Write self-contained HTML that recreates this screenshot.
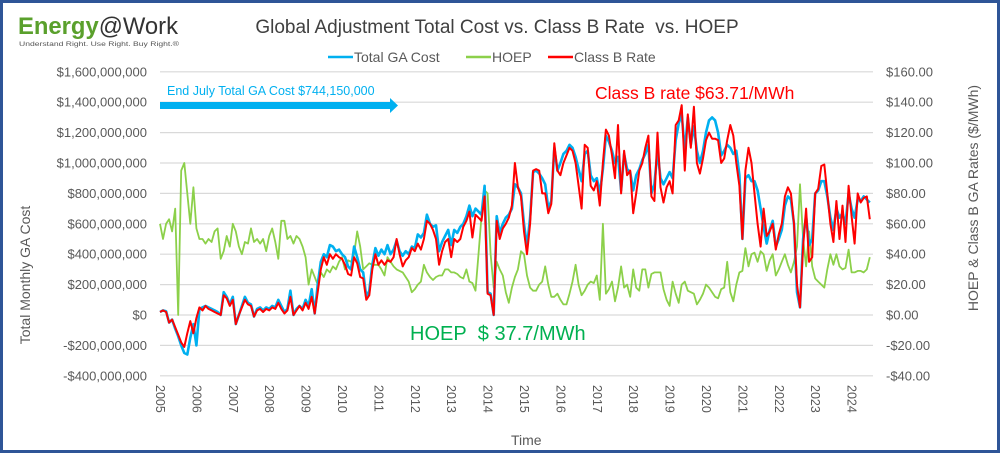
<!DOCTYPE html>
<html><head><meta charset="utf-8"><style>
body{margin:0;background:#fff;}
#wrap{position:relative;width:1000px;height:453px;overflow:hidden;font-family:"Liberation Sans",sans-serif;}
svg text{font-family:"Liberation Sans",sans-serif;}
</style></head><body>
<div id="wrap">
<svg id="chart" width="1000" height="453"></svg>
</div>
<script>
const years = ["2005","2006","2007","2008","2009","2010","2011","2012","2013","2014","2015","2016","2017","2018","2019","2020","2021","2022","2023","2024"];
const leftTicks = [-400,-200,0,200,400,600,800,1000,1200,1400,1600];
const leftTickLabels = ["-$400,000,000","-$200,000,000","$0","$200,000,000","$400,000,000","$600,000,000","$800,000,000","$1,000,000,000","$1,200,000,000","$1,400,000,000","$1,600,000,000"];
const rightTicks = [-40,-20,0,20,40,60,80,100,120,140,160];
const rightTickLabels = ["-$40.00","-$20.00","$0.00","$20.00","$40.00","$60.00","$80.00","$100.00","$120.00","$140.00","$160.00"];
// Class B rate $/MWh, monthly Jan 2005 - Jul 2024
const classB = [
2,3,2,-5,-3,-8,-13,-18,-21,-12,-4,-12,
-2,5,3,6,4,3,2,1,0,13,11,6,
10,-6,0,5,10,7,6,-1,3,4,2,4,
3,5,4,8,4,1,3,12,0,3,6,3,
8,4,12,1,15,30,38,33,40,37,40,38,
37,33,27,26,38,34,25,24,10,13,30,40,
33,36,33,36,35,38,50,40,32,36,38,44,
42,47,43,50,62,60,56,50,33,42,48,50,
38,50,48,50,58,62,68,51,66,64,62,78,
14,13,0,62,50,57,60,64,72,100,84,78,
55,40,60,95,96,95,80,80,67,73,113,95,
92,100,105,110,108,100,85,70,112,110,85,82,
88,72,100,122,118,105,90,125,80,108,92,95,
67,80,95,100,110,118,78,75,120,84,74,84,
88,80,125,128,138,95,132,110,137,100,93,103,
115,120,116,116,115,100,103,115,125,118,100,85,
50,95,110,100,80,60,45,70,52,55,60,43,
53,60,78,84,80,60,20,5,45,70,35,38,
80,83,98,99,80,60,48,75,50,72,48,85,
65,47,80,74,77,78,63];
// Total GA cost, $ millions
const gaCost = [
20,30,25,-50,-30,-90,-140,-200,-250,-260,-150,-60,
-200,40,50,60,50,40,30,20,0,150,120,70,
120,-60,0,60,120,80,70,-10,40,50,30,50,
40,60,50,100,60,20,40,160,0,40,60,40,
100,60,170,10,200,350,400,380,460,450,420,430,
400,380,320,300,450,380,300,280,120,160,330,440,
390,430,400,460,400,430,490,420,390,420,400,450,
440,530,510,540,660,600,580,590,420,480,520,560,
460,560,540,580,600,650,720,650,700,680,660,850,
150,140,0,650,540,600,640,660,700,860,840,800,
600,450,640,940,950,930,900,860,700,750,1100,950,
1000,1060,1080,1120,1100,1040,960,880,1060,1080,920,880,
900,800,960,1180,1140,1080,1000,1040,820,1060,960,940,
820,920,960,1020,1060,1120,800,860,1080,900,860,900,
940,900,1150,1260,1320,1080,1300,1120,1240,1080,1000,1080,
1200,1280,1300,1280,1200,1050,1080,1120,1100,1060,1080,920,
500,900,920,880,880,820,700,580,470,560,620,450,
500,560,720,780,760,600,150,50,500,650,460,500,
800,820,880,880,780,640,560,700,640,670,600,800,
700,640,760,750,780,760,740];
// HOEP $/MWh
const hoep = [
60,50,60,63,55,70,0,95,100,80,60,84,
57,50,50,47,50,48,55,57,37,42,52,45,
60,55,45,40,48,47,57,48,50,47,50,42,
52,57,48,37,62,62,50,52,47,52,50,45,
38,20,30,25,20,28,25,30,28,32,30,35,
38,30,36,35,40,55,45,30,32,34,33,33,
33,30,26,38,35,32,30,29,28,25,22,15,
17,20,22,33,28,25,23,25,26,26,30,30,
28,28,27,25,24,30,22,21,16,40,65,82,
80,40,18,35,30,26,15,8,18,25,30,42,
40,26,18,16,16,20,22,32,20,12,12,14,
10,7,7,14,22,33,20,13,16,20,22,21,
26,10,60,14,17,22,9,18,32,18,20,12,
30,18,16,30,30,18,27,28,28,28,17,10,
6,22,14,8,20,22,16,15,14,7,10,14,
20,18,15,12,11,17,18,35,15,9,20,28,
29,44,32,40,41,35,42,40,29,36,40,26,
30,35,40,33,28,35,45,86,50,32,55,32,
24,22,20,18,30,40,33,40,32,30,31,43,
28,28,29,29,28,30,38];

const svg = document.getElementById('chart');
const NS = 'http://www.w3.org/2000/svg';
const X0 = 160, YEARW = 36.4;
const yL = v => 315 - (v/200)*30.4;
const yR = v => 315 - (v/20)*30.4;
const xM = i => X0 + (i/12)*YEARW;
function mk(tag, attrs, parent){ const e=document.createElementNS(NS,tag); for(const k in attrs) e.setAttribute(k,attrs[k]); (parent||svg).appendChild(e); return e; }

const frame = mk('rect',{x:1.5,y:1.5,width:997,height:450,fill:'#fff',stroke:'#2f5597','stroke-width':3});



leftTicks.forEach((t,i)=>{
  const g = mk('line',{x1:X0,x2:873,y1:yL(t),y2:yL(t),stroke:'#d9d9d9','stroke-width':1.2});
  
  
  const l = mk('text',{x:147,y:yL(t)+4.5,'text-anchor':'end','font-size':13,fill:'#595959'});
  l.textContent = leftTickLabels[i];
  
  
});
rightTicks.forEach((t,i)=>{
  const l = mk('text',{x:886,y:yR(t)+4.5,'font-size':13,fill:'#595959'});
  l.textContent = rightTickLabels[i];
  
  
});
years.forEach((y,i)=>{
  const x = X0 + i*YEARW;
  const l = mk('text',{x:0,y:0,'font-size':12.5,fill:'#595959',transform:`translate(${x-4},385) rotate(90)`});
  l.textContent = y;
  
  
});

function line(data, scale, color, w, name){
  const d = data.map((v,i)=>(i?'L':'M')+xM(i).toFixed(1)+','+scale(v).toFixed(1)).join('');
  const p = mk('path',{d:d,fill:'none',stroke:color,'stroke-width':w,'stroke-linejoin':'round'});
  
  
}
line(hoep, yR, '#8cd04a', 1.8, 'hoep-line');
line(gaCost, yL, '#00b0f0', 2.6, 'total-ga-cost-line');
line(classB, yR, '#ff0000', 2, 'class-b-rate-line');

const arrow = mk('path',{d:'M160,102 L390,102 L390,98 L398,105.5 L390,113 L390,109 L160,109 Z',fill:'#00b0f0'});


function txt(x,y,s,size,color,name,extra){
  const t = mk('text',Object.assign({x:x,y:y,'font-size':size,fill:color},extra||{}));
  t.textContent = s;
  
  
  return t;
}
txt(167,95,'End July Total GA Cost $744,150,000',12.5,'#00b0f0','ga-cost-annotation');
txt(595,99,'Class B rate $63.71/MWh',17.5,'#ff0000','class-b-annotation');
txt(410,340,'HOEP\u00a0\u00a0$ 37.7/MWh',20,'#00b050','hoep-annotation');

txt(497,33,'Global Adjustment Total Cost vs. Class B Rate\u00a0 vs. HOEP',19,'#404040','chart-title',{'text-anchor':'middle'});
const lg=[['Total GA Cost','#00b0f0',328],['HOEP','#8cd04a',466],['Class B Rate','#ff0000',548]];
lg.forEach(([n,c,x])=>{
  const g = mk('g',{});
  
  
  mk('line',{x1:x,x2:x+25,y1:57,y2:57,stroke:c,'stroke-width':2.5},g);
  const t = mk('text',{x:x+26,y:62,'font-size':14,fill:'#595959'},g);
  t.textContent = n;
});
txt(30,275,'Total Monthly GA Cost',14,'#595959','left-axis-title',{transform:'rotate(-90 30 275)','text-anchor':'middle'});
txt(978,198,'HOEP & Class B GA Rates ($/MWh)',14,'#595959','right-axis-title',{transform:'rotate(-90 978 198)','text-anchor':'middle'});
txt(511,445,'Time',14,'#595959','x-axis-title');

const logo = mk('text',{x:18,y:34,'font-size':24,'font-weight':'bold',fill:'#5aa02c',textLength:160,lengthAdjust:'spacingAndGlyphs'});


logo.textContent='Energy';
const at = mk('tspan',{fill:'#333','font-weight':'normal'},logo); at.textContent='@Work';
txt(19,46,'Understand Right. Use Right. Buy Right.®',6.5,'#555','logo-tagline',{textLength:160,lengthAdjust:'spacingAndGlyphs'});
</script>
</body></html>
